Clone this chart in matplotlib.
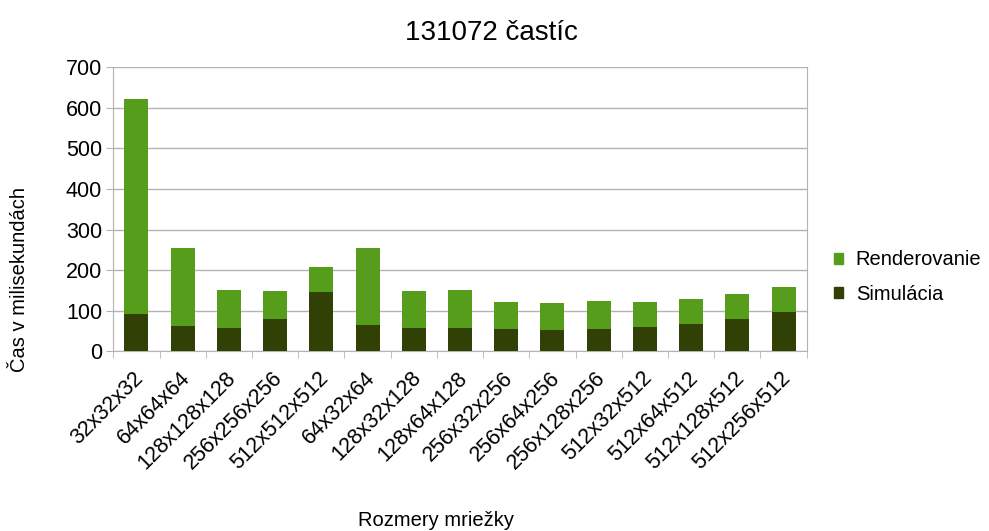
import matplotlib

matplotlib.use("Agg")
import matplotlib.pyplot as plt
from matplotlib.patches import Patch
from matplotlib.transforms import ScaledTranslation
import numpy as np

plt.rcParams["font.family"] = ["Liberation Sans", "DejaVu Sans"]

GRIDS = [
    "32x32x32", "64x64x64", "128x128x128", "256x256x256", "512x512x512",
    "64x32x64", "128x32x128", "128x64x128", "256x32x256", "256x64x256",
    "256x128x256", "512x32x512", "512x64x512", "512x128x512", "512x256x512",
]
SIMULACIA = [92, 62, 57, 80, 146, 65, 57, 57, 55, 52, 55, 60, 67, 80, 97]
CELKOM = [622, 255, 151, 149, 208, 255, 149, 151, 122, 119, 124, 122, 129, 141, 159]
RENDEROVANIE = [c - s for c, s in zip(CELKOM, SIMULACIA)]

SIM_COLOR = "#314004"
REND_COLOR = "#579d1c"
GRID_COLOR = "#b3b3b3"

fig = plt.figure(figsize=(9.89, 5.31), dpi=100)
ax = fig.add_axes([113.3 / 989, 1 - 351.3 / 531, (806.7 - 113.3) / 989, (351.3 - 67.3) / 531])

x = np.arange(len(GRIDS))
ax.bar(x, SIMULACIA, width=0.52, color=SIM_COLOR, zorder=3)
ax.bar(x, RENDEROVANIE, width=0.52, bottom=SIMULACIA, color=REND_COLOR, zorder=3)

ax.set_xlim(-0.5, len(GRIDS) - 0.5)
ax.set_ylim(0, 700)
ax.set_yticks(np.arange(0, 701, 100))
ax.yaxis.grid(True, color=GRID_COLOR, linewidth=1.0, zorder=0)
ax.set_axisbelow(True)

for side in ["left", "bottom", "right"]:
    ax.spines[side].set_color(GRID_COLOR)
ax.spines["top"].set_visible(False)

# category labels sit under the bars, boundary ticks between them
ax.set_xticks(x)
ax.set_xticklabels(GRIDS, rotation=45, ha="right", va="center", rotation_mode="anchor", fontsize=15.5)
ax.set_xticks(np.arange(-0.5, len(GRIDS), 1.0), minor=True)
ax.tick_params(axis="x", which="major", length=0, pad=17)
ax.tick_params(axis="x", which="minor", length=5, color=GRID_COLOR)
ax.tick_params(axis="y", length=5, color=GRID_COLOR, labelsize=15.5, pad=3)
shift = ScaledTranslation(4 / 100, 0, fig.dpi_scale_trans)
for lbl in ax.get_xticklabels():
    lbl.set_transform(lbl.get_transform() + shift)

fig.text(491 / 989, 1 - 33 / 531, "131072 častíc", ha="center", va="center", fontsize=20)
fig.text(436 / 989, 1 - 521 / 531, "Rozmery mriežky", ha="center", va="center", fontsize=14.5)
fig.text(20 / 989, 1 - 280 / 531, "Čas v milisekundách", ha="center", va="center",
         rotation=90, fontsize=14.5)

handles = [Patch(color=REND_COLOR), Patch(color=SIM_COLOR)]
fig.legend(handles, ["Renderovanie", "Simulácia"], loc="center left",
           bbox_to_anchor=(834 / 989, 1 - 277 / 531), frameon=False, fontsize=14.5,
           borderpad=0, borderaxespad=0, handlelength=0.46, handleheight=0.46,
           handletextpad=0.62, labelspacing=0.75)

fig.savefig("out.png", dpi=100)
